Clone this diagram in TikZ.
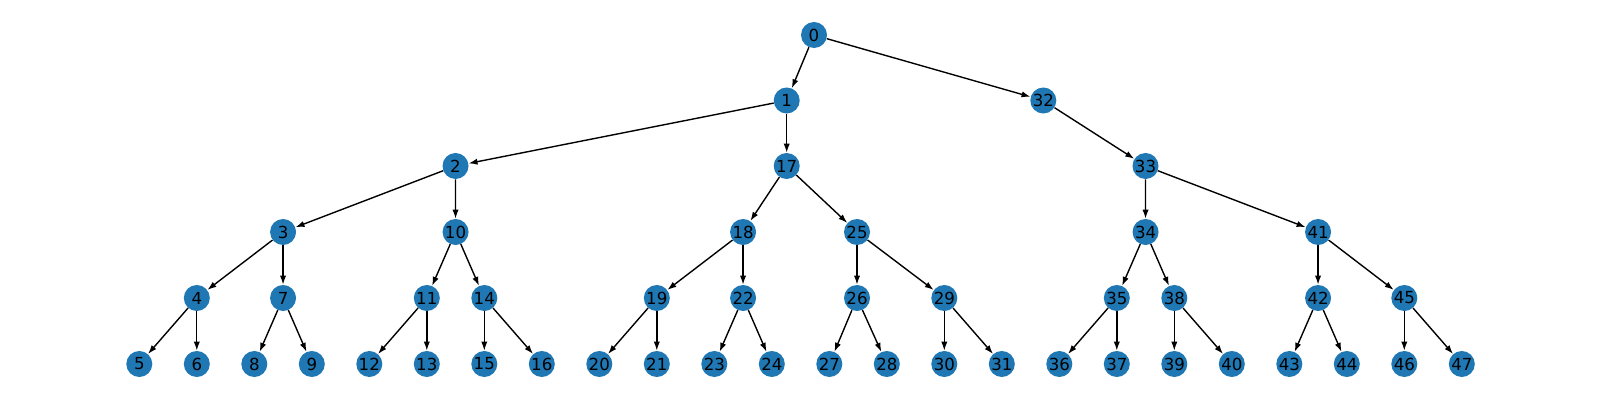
\documentclass[tikz,border=0pt]{standalone}
\usepackage{fontspec}
\setmainfont{DejaVu Sans}
\usetikzlibrary{arrows.meta}
\definecolor{nodeblue}{HTML}{1F77B4}
\tikzset{vertex/.style={circle,fill=nodeblue,inner sep=0pt,minimum size=0.65cm,font=\fontsize{11.8}{12}\selectfont}}
\begin{document}
\begin{tikzpicture}[x=0.025cm,y=-0.025cm,line join=round,>={Latex[length=6.4pt,width=4.4pt]}]
		\useasboundingbox (0,0) rectangle (1600,400);
		% upper levels
		\foreach \nom/\px/\py in {0/814/35,1/786.7/100.5,32/1043.3/100.5,2/455.5/166,17/786.7/166,33/1145.5/166,3/283.05/232,10/455.55/232,18/743.05/232,25/857/232,34/1145.55/232,41/1318.05/232,4/196.8/298,7/283.05/298,11/426.8/298,14/484.3/298,19/656.8/298,22/743.05/298,26/857/298,29/944.3/298,35/1116.8/298,38/1174.3/298,42/1318.05/298,45/1404.3/298}{\node[vertex] (n\nom) at (\px,\py) {\nom};}
		% leaves, evenly spaced
		\foreach \nom [count=\i from 0] in {5,6,8,9,12,13,15,16,20,21,23,24,27,28,30,31,36,37,39,40,43,44,46,47}{\node[vertex] (n\nom) at (139.3+57.5*\i,364) {\nom};}
		\foreach \a/\b in {0/1,0/32,1/2,1/17,2/3,2/10,3/4,3/7,4/5,4/6,7/8,7/9,10/11,10/14,11/12,11/13,14/15,14/16,17/18,17/25,18/19,18/22,19/20,19/21,22/23,22/24,25/26,25/29,26/27,26/28,29/30,29/31,32/33,33/34,33/41,34/35,34/38,35/36,35/37,38/39,38/40,41/42,41/45,42/43,42/44,45/46,45/47}{\draw[->,line width=0.99pt] (n\a)--(n\b);}
	\end{tikzpicture}
\end{document}
